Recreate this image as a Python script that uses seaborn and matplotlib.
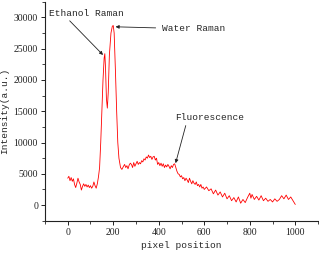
import pandas as pd
import matplotlib.pyplot as plt
import seaborn as sns

# spectrum (pixel position vs intensity)
pixel = [0, 5, 10, 15, 20, 25, 30, 35, 40, 45, 50, 55, 60, 65, 70, 75, 80, 85, 90, 95,
         100, 105, 110, 115, 120, 125, 130, 135, 140, 145, 150, 155, 160, 163, 166, 170,
         174, 178, 183, 190, 196, 200, 204, 210, 215, 220, 225, 232, 238, 245, 250, 255,
         260, 265, 270, 275, 280, 285, 290, 295, 300, 305, 310, 315, 320, 325, 330, 335,
         340, 345, 350, 355, 360, 365, 370, 375, 380, 385, 390, 395, 400, 405, 410, 415,
         420, 425, 430, 435, 440, 445, 450, 455, 460, 465, 470, 475, 480, 485, 490, 495,
         500, 505, 510, 515, 520, 525, 530, 535, 540, 545, 550, 555, 560, 565, 570, 575,
         580, 585, 590, 595, 600, 610, 620, 630, 640, 650, 660, 670, 680, 690, 700, 710,
         720, 730, 740, 750, 760, 770, 780, 790, 800, 805, 810, 820, 830, 840, 850, 860,
         870, 880, 890, 900, 910, 920, 930, 940, 950, 960, 970, 980, 990, 1000]
intensity = [4300, 4600, 3900, 4400, 3800, 4200, 3300, 2800, 3500, 4300, 3700, 3300, 2400,
             3000, 3400, 3000, 3300, 2900, 3200, 2800, 3100, 2700, 3000, 3700, 3100, 2700,
             3400, 4500, 6000, 10000, 15000, 20000, 23500, 24200, 22000, 17000, 15500, 18000,
             24000, 27500, 28600, 28700, 27500, 21000, 15000, 10000, 7500, 6000, 5700, 6200,
             6500, 6000, 6300, 5800, 6400, 6700, 6500, 6000, 6800, 6200, 6600, 7000, 6500,
             6800, 6600, 7100, 6900, 7400, 7200, 7700, 7500, 8000, 7600, 7800, 7300, 7700,
             7800, 7200, 7500, 6500, 6800, 6300, 6700, 6200, 6600, 6000, 6400, 6100, 6500,
             6200, 5800, 6300, 6000, 6500, 6600, 6000, 5400, 5000, 4900, 4500, 4700, 4200,
             4400, 3900, 4300, 4000, 3600, 4300, 3800, 3400, 3900, 3500, 3300, 3700, 3100,
             3300, 2900, 3300, 2700, 2900, 2500, 2900, 2300, 2600, 1800, 2400, 1600, 2100,
             1300, 1900, 1000, 1500, 700, 1200, 500, 1300, 300, 900, 400, 1200, 1900, 1100,
             1700, 900, 1400, 800, 1500, 700, 1100, 600, 900, 500, 1000, 600, 900, 1500,
             1000, 1600, 900, 1300, 700, 100]

df = pd.DataFrame({"pixel": pixel, "intensity": intensity})

sns.set_style("ticks")
plt.rcParams["font.family"] = ["Liberation Mono", "DejaVu Sans"]

fig = plt.figure(figsize=(3.19, 2.54), dpi=100)
ax = fig.add_axes([0.141, 0.131, 0.856, 0.862])
sns.lineplot(data=df, x="pixel", y="intensity", color="#ff0000", lw=0.6, ax=ax)

ax.set_xlim(-100, 1100)
ax.set_ylim(-2500, 32500)
ax.set_xticks(range(0, 1001, 200))
ax.set_xticks(range(-100, 1101, 100), minor=True)
ax.set_yticks(range(0, 30001, 5000))
ax.set_yticks(range(-2500, 32501, 2500), minor=True)
for lab in ax.get_xticklabels() + ax.get_yticklabels():
    lab.set_family("Liberation Serif")
ax.tick_params(which="major", length=3, width=0.7, labelsize=7, colors="#222222", pad=2)
ax.tick_params(which="minor", length=2, width=0.6, colors="#222222")
for s in ["top", "right"]:
    ax.spines[s].set_visible(False)
for s in ["left", "bottom"]:
    ax.spines[s].set_linewidth(0.8)
    ax.spines[s].set_color("#222222")

ax.set_xlabel("pixel position", fontsize=6.8, labelpad=3)
ax.set_ylabel("Intensity(a.u.)", fontsize=6.8, labelpad=3)

arrow = dict(arrowstyle="-|>", color="#222222", lw=0.6, mutation_scale=5, shrinkA=0, shrinkB=0)
ax.annotate("Ethanol Raman", xy=(155, 24000), xytext=(-81, 30700), fontsize=6.8,
            va="center", ha="left", arrowprops=dict(arrow, relpos=(0.23, 0.0)))
ax.annotate("Water Raman", xy=(210, 28500), xytext=(413, 28300), fontsize=6.8,
            va="center", ha="left", arrowprops=dict(arrow, relpos=(0.0, 0.5), shrinkA=2))
ax.annotate("Fluorescence", xy=(474, 6700), xytext=(471, 13950), fontsize=6.8,
            va="center", ha="left", arrowprops=dict(arrow, relpos=(0.17, 0.0)))

fig.savefig("out.png", dpi=100)
